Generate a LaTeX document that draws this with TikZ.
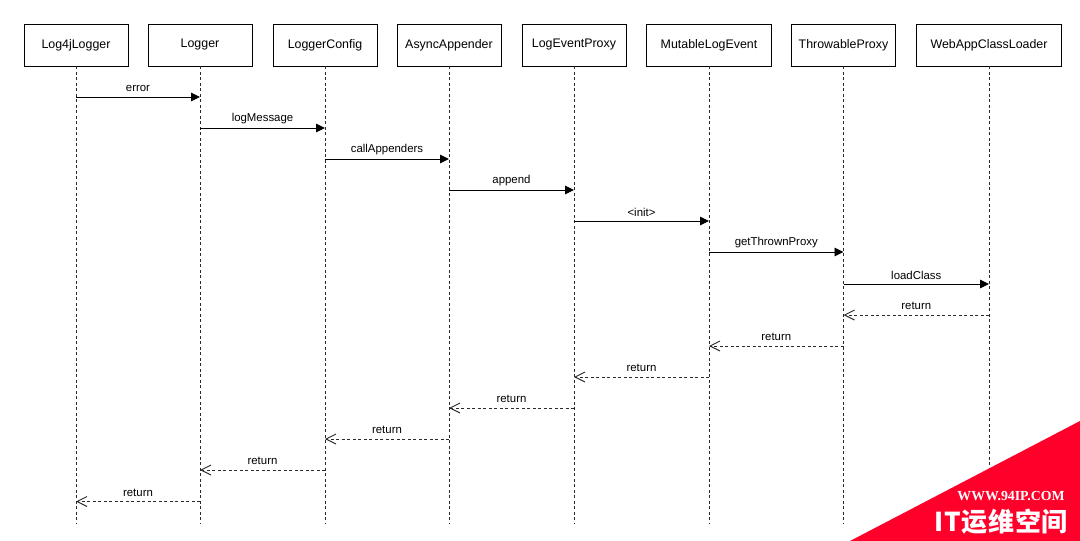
\documentclass[tikz,border=0pt]{standalone}
\usepackage{fontspec}
\setmainfont{Liberation Sans}
\newfontfamily\cjkfont{Noto Sans CJK SC}[LetterSpace=3]
\newfontfamily\markfont{Liberation Serif}
\usetikzlibrary{arrows.meta}
\definecolor{viiva}{HTML}{2A2A2A}
\definecolor{punainen}{HTML}{FF002B}
\tikzset{
	actor/.style={draw=black, line width=0.95pt, minimum height=42pt, inner sep=0pt, font=\fontsize{12.4}{14}\selectfont},
	lifeline/.style={draw=viiva, line width=1pt, dash pattern=on 3pt off 2.5pt},
	call/.style={draw=black, line width=0.95pt, -{Triangle[length=9pt,width=8.5pt]}},
	reply/.style={draw=viiva, line width=1pt, dash pattern=on 3pt off 2.5pt, -{Straight Barb[length=10pt,width=10pt,line width=0.9pt]}},
	msg/.style={inner sep=0pt, font=\fontsize{11.4}{13}\selectfont, midway, yshift=9pt}
}
\begin{document}
\begin{tikzpicture}[x=1pt,y=-1pt]
	\useasboundingbox (0,0) rectangle (1080,541);
	% boxes
	\node[actor, minimum width=104pt] (log4j) at (76,45) {Log4jLogger};
	\node[actor, minimum width=104pt] (logger) at (200,45) {Logger};
	\node[actor, minimum width=104pt] (config) at (325,45) {LoggerConfig};
	\node[actor, minimum width=104pt] (async) at (449,45) {AsyncAppender};
	\node[actor, minimum width=104pt] (proxy) at (574,45) {LogEventProxy};
	\node[actor, minimum width=125pt] (mutable) at (709,45) {MutableLogEvent};
	\node[actor, minimum width=104pt] (throwable) at (843.5,45) {ThrowableProxy};
	\node[actor, minimum width=145pt] (loader) at (989,45) {WebAppClassLoader};
	% lifelines
	\coordinate (bottom) at (0,524);
	\foreach \who in {log4j,logger,config,async,proxy,mutable,throwable,loader}
		\draw[lifeline] (\who.south) -- (\who |- bottom);
	% rows of the messages
	\foreach \n/\y in {1/97,2/128,3/159,4/190,5/221,6/252,7/284,8/315,9/346,10/377,11/408,12/439,13/470,14/501.5}
		\coordinate (row\n) at (0,\y);
	\draw[call] (log4j |- row1) -- (logger |- row1) node[msg] (m1) {error};
	\draw[call] (logger |- row2) -- (config |- row2) node[msg] (m2) {logMessage};
	\draw[call] (config |- row3) -- (async |- row3) node[msg] (m3) {callAppenders};
	\draw[call] (async |- row4) -- (proxy |- row4) node[msg] (m4) {append};
	\draw[call] (proxy |- row5) -- (mutable |- row5) node[msg] (m5) {<init>};
	\draw[call] (mutable |- row6) -- (throwable |- row6) node[msg] (m6) {getThrownProxy};
	\draw[call] (throwable |- row7) -- (loader |- row7) node[msg] (m7) {loadClass};
	\draw[reply] (loader |- row8) -- (throwable |- row8) node[msg] (m8) {return};
	\draw[reply] (throwable |- row9) -- (mutable |- row9) node[msg] (m9) {return};
	\draw[reply] (mutable |- row10) -- (proxy |- row10) node[msg] (m10) {return};
	\draw[reply] (proxy |- row11) -- (async |- row11) node[msg] (m11) {return};
	\draw[reply] (async |- row12) -- (config |- row12) node[msg] (m12) {return};
	\draw[reply] (config |- row13) -- (logger |- row13) node[msg] (m13) {return};
	\draw[reply] (logger |- row14) -- (log4j |- row14) node[msg] (m14) {return};
	% corner mark
	\fill[punainen] (850,541) -- (1080,421) -- (1080,541) -- cycle;
	\node[inner sep=0pt, text=white, font=\markfont\bfseries\fontsize{13.8}{15}\selectfont] (www) at (1011,496.5) {WWW.94IP.COM};
	\node[inner sep=0pt, text=white, font=\cjkfont\bfseries\fontsize{26}{28}\selectfont, anchor=west] (yunwei) at (934,521.5) {IT运维空间};
\end{tikzpicture}
\end{document}
